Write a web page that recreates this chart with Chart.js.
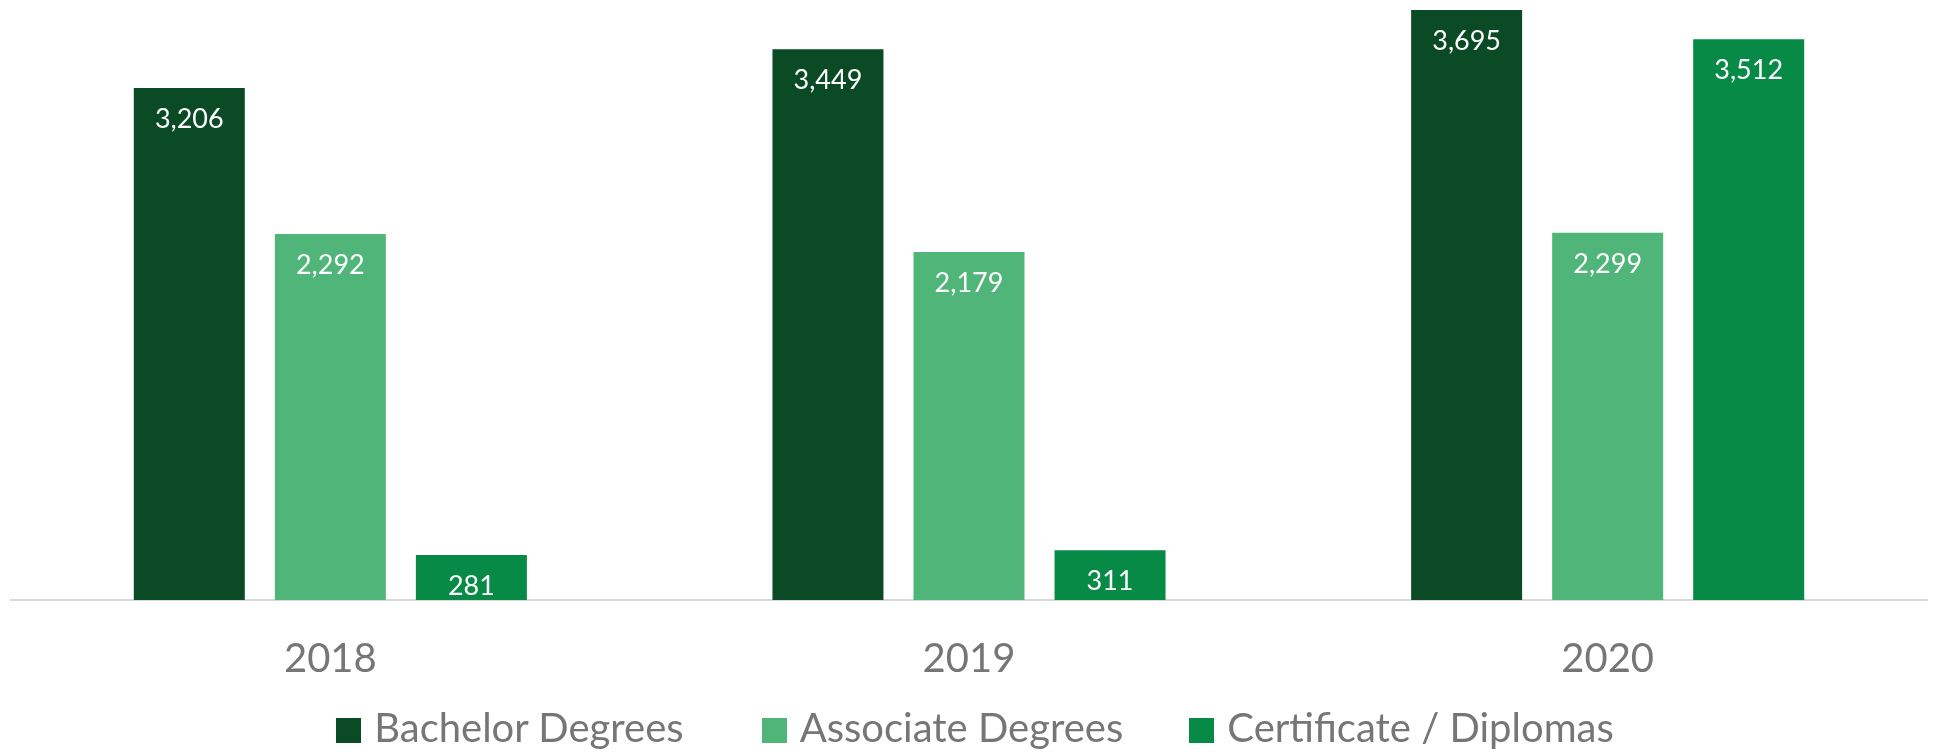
<!DOCTYPE html>
<html>
<head>
<meta charset="utf-8">
<script src="https://cdn.jsdelivr.net/npm/chart.js@4.4.1/dist/chart.umd.min.js"></script>
<style>
  html, body { margin: 0; padding: 0; background: #fff; }
  #wrap { width: 1934px; height: 754px; position: relative; }
  #box { position: absolute; left: 0; top: 0; width: 1934px; height: 718px; }
  #legend { position: absolute; left: 0; top: 708px; width: 1934px; box-sizing: border-box; padding-left: 16px;
            display: flex; justify-content: center;
            font-family: Lato, sans-serif; font-size: 40px; line-height: 39px; color: #767676; }
  #legend .item { display: flex; align-items: center; margin: 0 36px; }
  #legend .item:nth-child(1) { margin-right: 42px; }
  #legend .item:nth-child(2) { margin-left: 36px; margin-right: 30px; }
  #legend .sw { width: 25px; height: 25px; margin-right: 13px; margin-top: 5px; }
</style>
</head>
<body>
<div id="wrap">
  <div id="box"><canvas id="chart"></canvas></div>
  <div id="legend"></div>
</div>
<script>
// données
const years = ['2018', '2019', '2020'];
const bachelor = [3206, 3449, 3695];
const associate = [2292, 2179, 2299];
const certificate = [281, 311, 3512];
const seriesNames = ['Bachelor Degrees', 'Associate Degrees', 'Certificate / Diplomas'];
const colors = ['#0a4a25', '#50b578', '#068a46'];

// étiquettes de valeurs (blanches, en haut de la barre)
const valueLabels = {
  id: 'valueLabels',
  afterDatasetsDraw(chart) {
    const ctx = chart.ctx;
    ctx.save();
    ctx.fillStyle = '#ffffff';
    ctx.font = '27px Lato';
    ctx.textAlign = 'center';
    ctx.textBaseline = 'middle';
    chart.data.datasets.forEach((ds, i) => {
      chart.getDatasetMeta(i).data.forEach((bar, j) => {
        ctx.fillText(ds.data[j].toLocaleString('en-US'), bar.x, bar.y + 31);
      });
    });
    ctx.restore();
  }
};

const ctx = document.getElementById('chart').getContext('2d');
const chart = new Chart(ctx, {
  type: 'bar',
  data: {
    labels: years,
    datasets: [
      { label: seriesNames[0], data: bachelor, backgroundColor: colors[0] },
      { label: seriesNames[1], data: associate, backgroundColor: colors[1] },
      { label: seriesNames[2], data: certificate, backgroundColor: colors[2] }
    ]
  },
  options: {
    responsive: true,
    maintainAspectRatio: false,
    animation: false,
    categoryPercentage: 0.6625,
    barPercentage: 0.787,
    layout: { padding: { top: 0, left: 11, right: 7, bottom: 0 } },
    plugins: {
      tooltip: { enabled: false },
      legend: { display: false }
    },
    scales: {
      x: {
        grid: { display: false, drawTicks: false },
        border: { display: true, color: '#d9d9d9', width: 2 },
        ticks: { color: '#767676', font: { family: 'Lato', size: 40 }, padding: 35 }
      },
      y: {
        display: false,
        min: 0,
        max: 3757
      }
    }
  },
  plugins: [valueLabels]
});

// légende html
const legend = document.getElementById('legend');
chart.data.datasets.forEach(ds => {
  const it = document.createElement('div');
  it.className = 'item';
  it.innerHTML = `<span class="sw" style="background:${ds.backgroundColor}"></span><span>${ds.label}</span>`;
  legend.appendChild(it);
});
</script>
</body>
</html>
